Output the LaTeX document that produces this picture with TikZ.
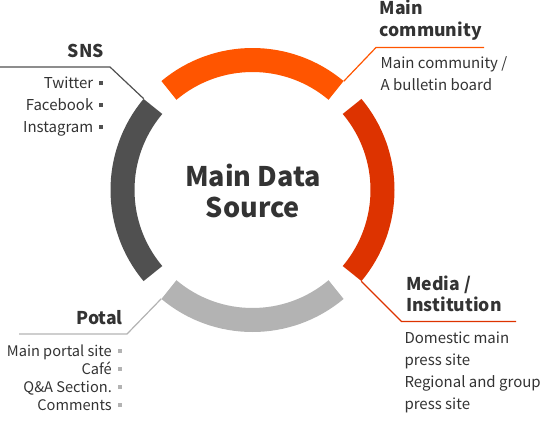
\documentclass[tikz,border=0pt]{standalone}
\usepackage{fontspec}
\setmainfont{Noto Sans CJK KR}

\definecolor{commorange}{HTML}{FF5500}
\definecolor{mediared}{HTML}{DD3300}
\definecolor{snsgray}{HTML}{505050}
\definecolor{potalgray}{HTML}{B3B3B3}
\definecolor{txtgray}{HTML}{333333}

\newcommand{\sqbul}[1]{\hspace{6pt}\textcolor{#1}{\rule[3.5pt]{4pt}{4pt}}}

\tikzset{
  ring/.style={line width=24pt},
  leader/.style={line width=1.2pt},
  title/.style={font=\fontsize{17.6}{21.7}\selectfont\bfseries, text=txtgray, inner sep=0pt},
  item/.style={font=\fontsize{15}{21.8}\selectfont, text=txtgray, inner sep=0pt},
}

\begin{document}
\begin{tikzpicture}[x=1pt,y=1pt]
  \useasboundingbox (0,0) rectangle (540,-423);
  \coordinate (c) at (252.5,-190);

  % ring
  \draw[ring,commorange] ([shift={(50:130)}]c) arc[start angle=50,end angle=130,radius=130];
  \draw[ring,mediared] ([shift={(-40:130)}]c) arc[start angle=-40,end angle=40,radius=130];
  \draw[ring,snsgray] ([shift={(140:130)}]c) arc[start angle=140,end angle=220,radius=130];
  \draw[ring,potalgray] ([shift={(230:130)}]c) arc[start angle=230,end angle=310,radius=130];

  \node[font=\fontsize{27}{31}\selectfont\bfseries, text=txtgray, align=center, inner sep=0pt] (src) at (253,-191) {Main Data\\Source};

  % SNS
  \coordinate (snsend) at ([shift={(140:142)}]c);
  \coordinate (snsknee) at (110,-67);
  \coordinate (snstail) at (0,-67);
  \draw[leader,snsgray] (snsend) -- (snsknee) -- (snstail);
  \node[title,anchor=base east] (sns) at (104,-57) {SNS};
  \node[item,align=right,anchor=base east] (snslist) at (103.5,-132.5)
    {Twitter\sqbul{snsgray}\\Facebook\sqbul{snsgray}\\Instagram\sqbul{snsgray}};

  % Main community
  \coordinate (commend) at ([shift={(50:142)}]c);
  \coordinate (commknee) at (376,-47.5);
  \coordinate (commtail) at (484,-47.5);
  \draw[leader,commorange] (commend) -- (commknee) -- (commtail);
  \node[title,align=left,anchor=base west] (comm) at (379.5,-36.5) {Main\\community};
  \node[item,align=left,anchor=base west] (commlist) at (380.5,-90)
    {Main community /\\A bulletin board};

  % Media / Institution
  \coordinate (mediaend) at ([shift={(-40:142)}]c);
  \coordinate (mediaknee) at (401.5,-321.5);
  \coordinate (mediatail) at (516,-321.5);
  \draw[leader,mediared] (mediaend) -- (mediaknee) -- (mediatail);
  \node[title,align=left,anchor=base west] (media) at (406,-311.7) {Media /\\Institution};
  \node[item,align=left,anchor=base west] (medialist) at (404.3,-409)
    {Domestic main\\press site\\Regional and group\\press site};

  % Potal
  \coordinate (potalend) at ([shift={(230:142)}]c);
  \coordinate (potalknee) at (127,-334);
  \coordinate (potaltail) at (19,-334);
  \draw[leader,potalgray] (potalend) -- (potalknee) -- (potaltail);
  \node[title,anchor=base east] (potal) at (123,-324) {Potal};
  \node[item,align=right,anchor=base east,font=\fontsize{14.6}{18.2}\selectfont] (potallist) at (122,-410.7)
    {Main portal site\sqbul{potalgray}\\Café\sqbul{potalgray}\\Q\&A Section.\sqbul{potalgray}\\Comments\sqbul{potalgray}};
\end{tikzpicture}
\end{document}
